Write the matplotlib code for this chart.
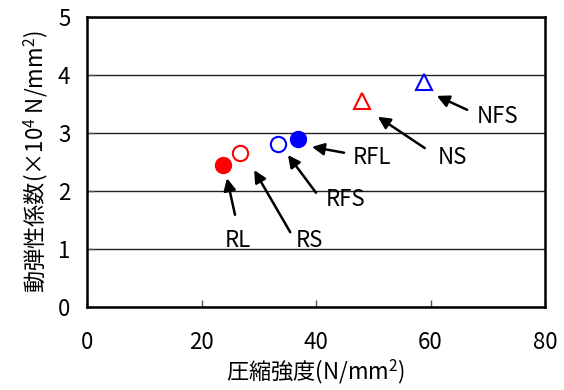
import matplotlib
matplotlib.use("Agg")
import matplotlib.pyplot as plt

plt.rcParams['font.family'] = ['Noto Sans CJK JP', 'DejaVu Sans']
plt.rcParams['mathtext.fontset'] = 'custom'
plt.rcParams['mathtext.rm'] = 'Noto Sans CJK JP'

# specimen data: compressive strength vs dynamic modulus
names = ['RL', 'RS', 'RFS', 'RFL', 'NS', 'NFS']
strength = [23.8, 26.7, 33.4, 36.9, 48.0, 58.9]
modulus = [2.45, 2.66, 2.81, 2.90, 3.55, 3.88]
colors = ['red', 'red', 'blue', 'blue', 'red', 'blue']
markers = ['o', 'o', 'o', 'o', '^', '^']
filled = [True, False, False, True, False, False]

# label positions and arrow tails
label_xy = [(26.4, 1.14), (38.8, 1.14), (45.1, 1.86), (49.8, 2.57), (63.8, 2.57), (71.8, 3.28)]
tail_xy = [(25.85, 1.59), (35.5, 1.29), (40.0, 1.97), (44.9, 2.66), (59.0, 2.74), (66.4, 3.40)]
head_xy = [(24.45, 2.22), (29.2, 2.36), (35.1, 2.62), (39.3, 2.76), (50.8, 3.28), (61.1, 3.64)]

fig = plt.figure(figsize=(5.64, 3.9), dpi=100)
ax = fig.add_axes([87/564, 83/390, 458/564, 290/390])

for i in range(len(names)):
    ax.plot(strength[i], modulus[i], linestyle='none', marker=markers[i],
            markersize=11, markeredgewidth=1.5, markeredgecolor=colors[i],
            markerfacecolor=colors[i] if filled[i] else 'white', zorder=3)
    ax.annotate('', xy=head_xy[i], xytext=tail_xy[i],
                arrowprops=dict(arrowstyle='-|>', color='black', lw=1.8,
                                mutation_scale=18, shrinkA=0, shrinkB=0))
    ax.text(label_xy[i][0], label_xy[i][1], names[i], fontsize=16,
            ha='center', va='center')

ax.set_xlim(0, 80)
ax.set_ylim(0, 5)
ax.set_xticks([0, 20, 40, 60, 80])
ax.set_yticks([0, 1, 2, 3, 4, 5])
ax.yaxis.grid(True, color='#222222', lw=1)
ax.set_axisbelow(True)
ax.tick_params(direction='in', labelsize=16, length=5, width=1, color='#555555')
ax.tick_params(axis='x', pad=17)
ax.tick_params(axis='y', pad=12)
for s in ax.spines.values():
    s.set_linewidth(1.8)
    s.set_color('black')

ax.set_xlabel('圧縮強度(N/mm$^2$)', fontsize=16, labelpad=3)
ax.set_ylabel('動弾性係数(×10$^4$ N/mm$^2$)', fontsize=16, labelpad=6)

fig.savefig('out.png', dpi=100)
